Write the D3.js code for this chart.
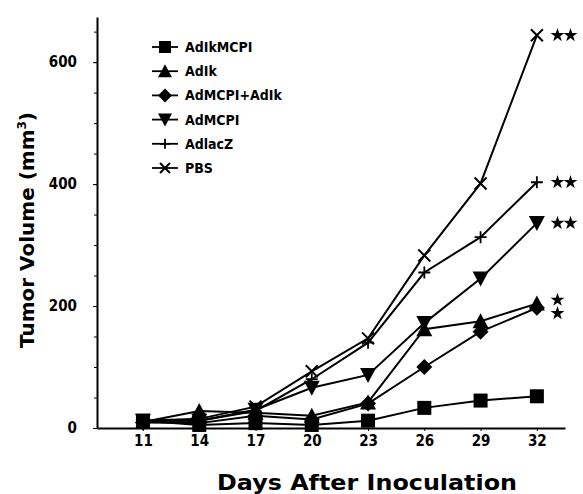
<!DOCTYPE html>
<html>
<head>
<meta charset="utf-8">
<script src="https://cdn.jsdelivr.net/npm/d3@7"></script>
<style>
  body { margin: 0; background: #fff; }
  .tick text { font-family: "DejaVu Sans Condensed", "DejaVu Sans", sans-serif; font-weight: bold; font-size: 15px; fill: #000; }
  .legend text { font-family: "DejaVu Sans Condensed", "DejaVu Sans", sans-serif; font-weight: bold; font-size: 14px; }
</style>
</head>
<body>
<div class="container"></div>
<script>
// data
const days = [11, 14, 17, 20, 23, 26, 29, 32]
const names = ['AdIkMCPI', 'AdIk', 'AdMCPI+AdIk', 'AdMCPI', 'AdlacZ', 'PBS']
const squareVals = [12, 5, 8, 5, 12, 33, 45, 52]
const triVals = [10, 28, 25, 20, 42, 162, 175, 204]
const diamondVals = [9, 8, 20, 14, 40, 100, 158, 197]
const invTriVals = [12, 12, 30, 66, 87, 172, 245, 336]
const plusVals = [12, 12, 28, 80, 140, 255, 313, 403]
const crossVals = [12, 15, 35, 93, 147, 283, 401, 644]
const yTicks = [0, 200, 400, 600]
// significance marks: [value, number of stars]
const sigMarks = [[644, 2], [403, 2], [336, 2], [210, 1], [188, 1]]

const series = [squareVals, triVals, diamondVals, invTriVals, plusVals, crossVals]
const shapes = ['square', 'triangle', 'diamond', 'invtri', 'plus', 'cross']

const width = 583, height = 494
const svg = d3.select('.container').append('svg')
    .attr('width', width)
    .attr('height', height)

const x = d3.scaleLinear().domain([8.55, 33.5]).range([97, 565])
const y = d3.scaleLinear().domain([0, 674]).range([428, 17])

function marker(g, shape, s) {
    // s = half size
    if (shape == 'square') {
        g.append('rect').attr('x', -s).attr('y', -s).attr('width', 2 * s).attr('height', 2 * s).attr('fill', '#000')
    } else if (shape == 'triangle') {
        g.append('path').attr('d', `M0,${-s - 1}L${s + 1},${s}L${-s - 1},${s}Z`).attr('fill', '#000')
    } else if (shape == 'invtri') {
        g.append('path').attr('d', `M${-s - 1},${-s}L${s + 1},${-s}L0,${s + 1}Z`).attr('fill', '#000')
    } else if (shape == 'diamond') {
        g.append('path').attr('d', `M0,${-s - 1}L${s + 1},0L0,${s + 1}L${-s - 1},0Z`).attr('fill', '#000')
    } else if (shape == 'plus') {
        g.append('path').attr('d', `M${-s},0L${s},0M0,${-s}L0,${s}`).attr('stroke', '#000').attr('stroke-width', 1.8)
    } else {
        g.append('path').attr('d', `M${-s},${-s}L${s},${s}M${s},${-s}L${-s},${s}`).attr('stroke', '#000').attr('stroke-width', 2)
    }
}

// axes
const xAxis = svg.append('g')
    .attr('transform', 'translate(0,428)')
    .call(d3.axisBottom(x).tickValues(days).tickSize(3).tickSizeOuter(0).tickPadding(4))
xAxis.select('.domain').attr('stroke-width', 2)

svg.append('g')
    .attr('transform', 'translate(97,0)')
    .call(d3.axisLeft(y).tickValues(d3.range(0, 675, 50)).tickSize(3).tickFormat('').tickSizeOuter(0))
    .select('.domain').attr('stroke-width', 2)
svg.append('g')
    .attr('transform', 'translate(97,0)')
    .call(d3.axisLeft(y).tickValues(yTicks).tickSize(4).tickPadding(16))
    .select('.domain').remove()

// lines + markers
const line = d3.line().x((d, i) => x(days[i])).y(d => y(d))
series.forEach((vals, k) => {
    svg.append('path')
        .attr('d', line(vals))
        .attr('fill', 'none')
        .attr('stroke', '#000')
        .attr('stroke-width', 2)
    vals.forEach((v, i) => {
        const g = svg.append('g').attr('transform', `translate(${x(days[i])},${y(v)})`)
        marker(g, shapes[k], shapes[k] == 'plus' || shapes[k] == 'cross' ? 6 : 7)
    })
})

// significance stars
const star = d3.symbol().type(d3.symbolStar).size(60)
sigMarks.forEach(([v, n]) => {
    for (let j = 0; j < n; j++) {
        svg.append('path')
            .attr('d', star())
            .attr('fill', '#000')
            .attr('transform', `translate(${x(33.1) + j * 13},${y(v)})`)
    }
})

// legend
const legend = svg.append('g').attr('class', 'legend')
names.forEach((name, i) => {
    const g = legend.append('g').attr('transform', `translate(165,${47 + i * 24.2})`)
    g.append('line').attr('x1', -13).attr('x2', 13).attr('stroke', '#000').attr('stroke-width', 1.8)
    marker(g, shapes[i], shapes[i] == 'plus' || shapes[i] == 'cross' ? 5 : 6)
    g.append('text').attr('x', 20).attr('dy', '0.36em').text(name)
})

// titles
svg.append('text')
    .attr('x', 367).attr('y', 490)
    .attr('text-anchor', 'middle')
    .attr('textLength', 300)
    .attr('lengthAdjust', 'spacingAndGlyphs')
    .style('font-family', 'DejaVu Sans')
    .style('font-weight', 'bold')
    .style('font-size', '21px')
    .text('Days After Inoculation')

const yt = svg.append('text')
    .attr('transform', 'translate(34,230) rotate(-90)')
    .attr('text-anchor', 'middle')
    .style('font-family', 'DejaVu Sans')
    .style('font-weight', 'bold')
    .style('font-size', '20px')
yt.append('tspan').text('Tumor Volume (mm')
yt.append('tspan').attr('dy', -8).style('font-size', '12px').text('3')
yt.append('tspan').attr('dy', 8).text(')')
</script>
</body>
</html>
